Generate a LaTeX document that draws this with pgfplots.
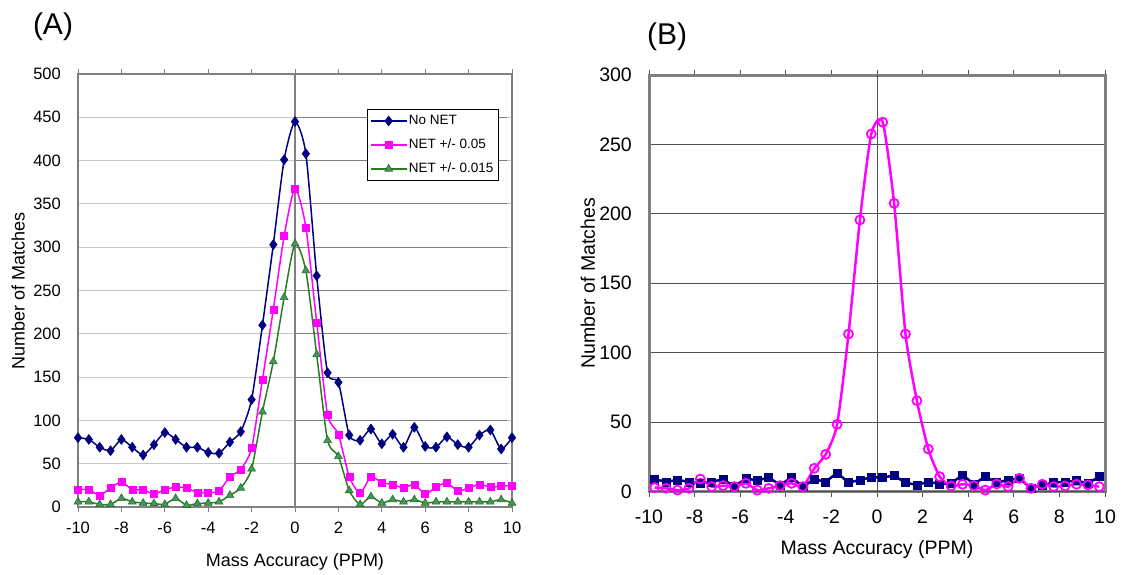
\documentclass[border=0pt]{standalone}
\usepackage{pgfplots}
\pgfplotsset{compat=1.18}
\usepackage{fontspec}
\setmainfont{Liberation Sans}
\definecolor{navyc}{RGB}{0,0,128}
\definecolor{magc}{RGB}{255,0,255}
\definecolor{greenl}{RGB}{40,125,30}
\definecolor{greenf}{RGB}{70,150,85}
\definecolor{greend}{RGB}{35,110,50}
\definecolor{frameA}{RGB}{128,128,128}
\definecolor{gridA}{RGB}{200,200,200}
\definecolor{gridB}{RGB}{80,80,80}

\newcommand{\fs}[1]{\fontsize{#1}{#1}\selectfont}

\begin{document}
\begin{tikzpicture}[x=1pt,y=1pt]
\useasboundingbox (0,0) rectangle (1125,574);

% ---------------- panel A ----------------
\begin{axis}[
  at={(78pt,67pt)}, anchor=south west, scale only axis,
  width=434pt, height=433pt,
  xmin=-10, xmax=10, ymin=0, ymax=500,
  xtick={-10,-8,...,10}, ytick={0,50,...,500},
  /pgf/number format/assume math mode=true,
  axis line style={frameA, line width=2.5pt},
  ymajorgrids, grid style={gridA, line width=1pt},
  tick align=outside, major tick length=5pt,
  xtick style={frameA, line width=1pt}, ytick style={draw=none},
  tick label style={font=\fs{16.5}},
  yticklabel style={inner sep=0pt, xshift=-12pt},
  xticklabel style={inner sep=0pt, yshift=-10pt},
  xlabel={Mass Accuracy (PPM)}, ylabel={Number of Matches},
  label style={font=\fs{18}},
  xlabel style={at={(axis description cs:0.5,-0.127)}, anchor=center},
  ylabel style={at={(axis description cs:-0.138,0.5)}, anchor=center, rotate=0},
  legend cell align=left,
  legend image code/.code={\draw[mark repeat=2, mark phase=2, #1] plot coordinates {(0pt,0pt) (17.5pt,0pt) (35pt,0pt)};},
  legend style={at={(0.666,0.919)}, anchor=north west, draw=black, line width=0.8pt,
    font=\fs{13.5}, row sep=7pt, inner xsep=3pt, inner ysep=3pt,
    nodes={text height=10pt, text depth=3pt, inner sep=2pt}},
]
\draw[frameA, line width=1.5pt] (axis cs:0,0) -- (axis cs:0,500);
\pgfplotsinvokeforeach{50,100,...,450}{\draw[frameA, line width=1pt] (axis cs:0,#1) -- ++(-5pt,0);}

\addplot[navyc, line width=1.5pt, smooth, tension=0.4, mark=diamond*, mark size=5pt,
  mark options={fill=navyc, draw=navyc, line width=0.5pt}] coordinates {
(-10,80) (-9.5,78) (-9,69) (-8.5,65) (-8,78) (-7.5,69) (-7,60) (-6.5,72) (-6,86) (-5.5,78)
(-5,69) (-4.5,69) (-4,63) (-3.5,62) (-3,75) (-2.5,87) (-2,124) (-1.5,210) (-1,303) (-0.5,401)
(0,445) (0.5,408) (1,267) (1.5,155) (2,144) (2.5,83) (3,77) (3.5,90) (4,73) (4.5,84)
(5,69) (5.5,92) (6,70) (6.5,69) (7,81) (7.5,72) (8,69) (8.5,83) (9,89) (9.5,67) (10,80)};
\addlegendentry{No NET}

\addplot[magc, line width=1.5pt, smooth, tension=0.4, mark=square*, mark size=3.5pt,
  mark options={fill=magc, draw=magc, line width=0.5pt}] coordinates {
(-10,20) (-9.5,20) (-9,13.5) (-8.5,22) (-8,29) (-7.5,20) (-7,20) (-6.5,15) (-6,20) (-5.5,23)
(-5,22) (-4.5,16.5) (-4,16.5) (-3.5,18.5) (-3,35) (-2.5,43.5) (-2,68) (-1.5,147) (-1,228) (-0.5,313)
(0,368) (0.5,323) (1,213) (1.5,107) (2,84) (2.5,35) (3,16) (3.5,35) (4,28) (4.5,26)
(5,22) (5.5,26) (6,15) (6.5,23) (7,28) (7.5,18.5) (8,22) (8.5,26) (9,23) (9.5,24) (10,25)};
\addlegendentry{NET +/- 0.05}

\addplot[greenl, line width=1.5pt, smooth, tension=0.4, mark=triangle*, mark size=4.5pt,
  mark options={fill=greenf, draw=greend, line width=0.6pt}] coordinates {
(-10,6) (-9.5,6) (-9,3) (-8.5,3) (-8,10) (-7.5,6) (-7,4.6) (-6.5,4) (-6,3) (-5.5,10)
(-5,2) (-4.5,4) (-4,4.6) (-3.5,6) (-3,13.5) (-2.5,22) (-2,44) (-1.5,110) (-1,168) (-0.5,242)
(0,304) (0.5,273) (1,176) (1.5,77) (2,58.5) (2.5,19) (3,3) (3.5,12) (4,4.6) (4.5,8.5)
(5,6) (5.5,8.5) (6,4.6) (6.5,6) (7,6) (7.5,6) (8,6) (8.5,6) (9,6) (9.5,8.5) (10,4.6)};
\addlegendentry{NET +/- 0.015}
\end{axis}

% ---------------- panel B ----------------
\begin{axis}[
  at={(649pt,82.5pt)}, anchor=south west, scale only axis,
  width=456pt, height=416.5pt,
  xmin=-10, xmax=10, ymin=0, ymax=300,
  xtick={-10,-8,...,10}, ytick={0,50,...,300},
  /pgf/number format/assume math mode=true,
  axis line style={frameA, line width=3pt},
  ymajorgrids, grid style={gridB, line width=0.9pt},
  tick align=outside, major tick length=5pt,
  xtick style={gridB, line width=1pt}, ytick style={draw=none},
  tick label style={font=\fs{19.5}},
  yticklabel style={inner sep=0pt, xshift=-12pt},
  xticklabel style={inner sep=0pt, yshift=-13pt},
  xlabel={Mass Accuracy (PPM)}, ylabel={Number of Matches},
  label style={font=\fs{19.5}},
  xlabel style={at={(axis description cs:0.5,-0.138)}, anchor=center},
  ylabel style={at={(axis description cs:-0.134,0.5)}, anchor=center, rotate=0},
]
\draw[gridB, line width=1pt] (axis cs:0,0) -- (axis cs:0,300);
\draw[gridB, line width=1pt] (axis cs:-10,0) -- (axis cs:10,0);

\addplot[navyc, line width=2.5pt, mark=square*, mark size=4pt,
  mark options={fill=navyc, draw=navyc, line width=0.5pt}] coordinates {
(-9.75,8.8) (-9.25,7) (-8.75,8.3) (-8.25,7) (-7.75,5.9) (-7.25,7) (-6.75,8.8) (-6.25,3.5)
(-5.75,9.5) (-5.25,7.8) (-4.75,10.2) (-4.25,4.7) (-3.75,10.2) (-3.25,3.5) (-2.75,8.8) (-2.25,7)
(-1.75,13.5) (-1.25,6.4) (-0.75,8.3) (-0.25,10.2) (0.25,10.2) (0.75,11.4) (1.25,6.4) (1.75,4.7)
(2.25,7) (2.75,5.4) (3.25,5.9) (3.75,11.9) (4.25,5.4) (4.75,10.7) (5.25,6.4) (5.75,8.3)
(6.25,9.5) (6.75,2.3) (7.25,4.7) (7.75,6.4) (8.25,7) (8.75,7.8) (9.25,5.9) (9.75,10.7)};

\addplot[magc, line width=2.5pt, smooth, tension=0.4, mark=o, mark size=4.5pt,
  mark options={draw=magc, line width=1.8pt}] coordinates {
(-9.75,2.8) (-9.25,2.3) (-8.75,1) (-8.25,2.3) (-7.75,9) (-7.25,3.5) (-6.75,4.2) (-6.25,3.5)
(-5.75,5.9) (-5.25,1) (-4.75,2.3) (-4.25,4.2) (-3.75,5.9) (-3.25,3.5) (-2.75,16.7) (-2.25,26.8)
(-1.75,48.4) (-1.25,113.4) (-0.75,195.6) (-0.25,257.5) (0.25,266) (0.75,207.6) (1.25,113.4) (1.75,65.4)
(2.25,30.6) (2.75,10.7) (3.25,4) (3.75,5.2) (4.25,4.2) (4.75,1) (5.25,5.4) (5.75,3.5)
(6.25,9.5) (6.75,2.3) (7.25,5.2) (7.75,3.5) (8.25,4) (8.75,5.2) (9.25,4.7) (9.75,3.5)};
\end{axis}

\node[font=\fs{30}] at (53,547) {(A)};
\node[font=\fs{30}] at (667,537) {(B)};
\end{tikzpicture}
\end{document}
